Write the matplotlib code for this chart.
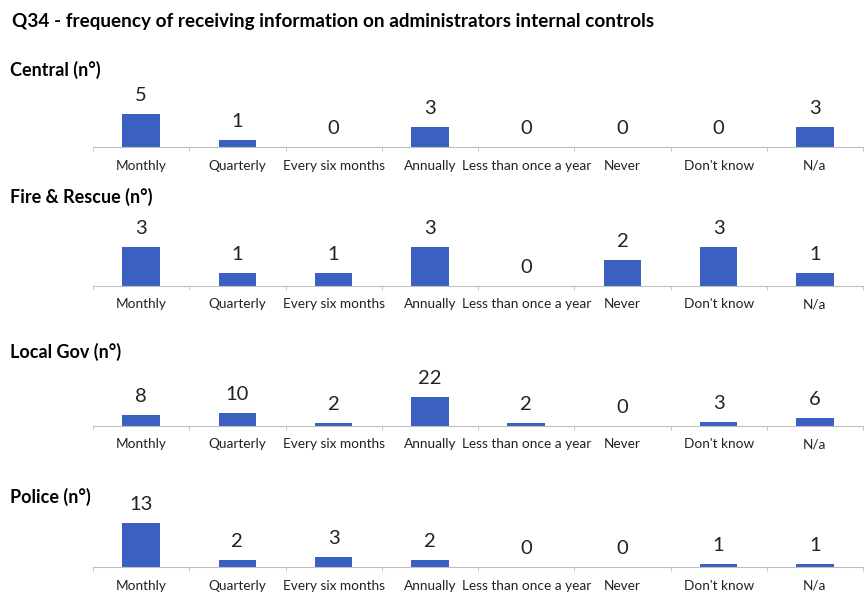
import matplotlib.pyplot as plt
import numpy as np

# survey answers per category
categories = ["Monthly", "Quarterly", "Every six months", "Annually",
              "Less than once a year", "Never", "Don't know", "N/a"]
central = [5, 1, 0, 3, 0, 0, 0, 3]
fire_rescue = [3, 1, 1, 3, 0, 2, 3, 1]
local_gov = [8, 10, 2, 22, 2, 0, 3, 6]
police = [13, 2, 3, 2, 0, 0, 1, 1]
panel_names = ["Central (n\u00b0)", "Fire & Rescue (n\u00b0)", "Local Gov (n\u00b0)", "Police (n\u00b0)"]
title = "Q34 - frequency of receiving information on administrators internal controls"

plt.rcParams['font.family'] = ['Lato', 'DejaVu Sans']

W, H = 864, 594
fig = plt.figure(figsize=(W / 100, H / 100), dpi=100)

bar_color = '#3B60C2'
axis_color = '#BFBFBF'

# layout in pixels (baseline y, panel title y) and per-panel y scale
baselines = [147, 286, 426, 567]
title_y = [70, 197, 352, 497]
ymax = [7.6, 3.85, 38.0, 14.7]
ax_h = 50
left, right = 93, 863

fig.text(12 / W, 1 - 22 / H, title, fontsize=13.6, fontweight='bold', va='center', ha='left')

series = [central, fire_rescue, local_gov, police]
x = np.arange(len(categories))
for i, vals in enumerate(series):
    ax = fig.add_axes([left / W, 1 - baselines[i] / H, (right - left) / W, ax_h / H])
    ax.bar(x, vals, width=0.39, color=bar_color)
    ax.set_xlim(-0.5, len(categories) - 0.5)
    ax.set_ylim(0, ymax[i])
    for xi, v in zip(x, vals):
        ax.annotate(str(v), (xi, v), xytext=(0, 10), textcoords='offset pixels',
                    ha='center', va='bottom', fontsize=14.5, color='#222222')
    for s in ['top', 'right', 'left']:
        ax.spines[s].set_visible(False)
    ax.spines['bottom'].set_color(axis_color)
    ax.set_yticks([])
    ax.set_xticks(x)
    ax.set_xticklabels(categories, fontsize=9.8, color='#222222')
    ax.tick_params(axis='x', which='major', length=0, pad=9)
    ax.set_xticks(np.arange(-0.5, len(categories) + 0.5, 1), minor=True)
    ax.tick_params(axis='x', which='minor', length=3, color=axis_color)
    ax.patch.set_alpha(0)
    fig.text(10 / W, 1 - title_y[i] / H, panel_names[i], fontsize=13,
             fontweight='bold', va='center', ha='left')

fig.savefig('out.png', dpi=100)
